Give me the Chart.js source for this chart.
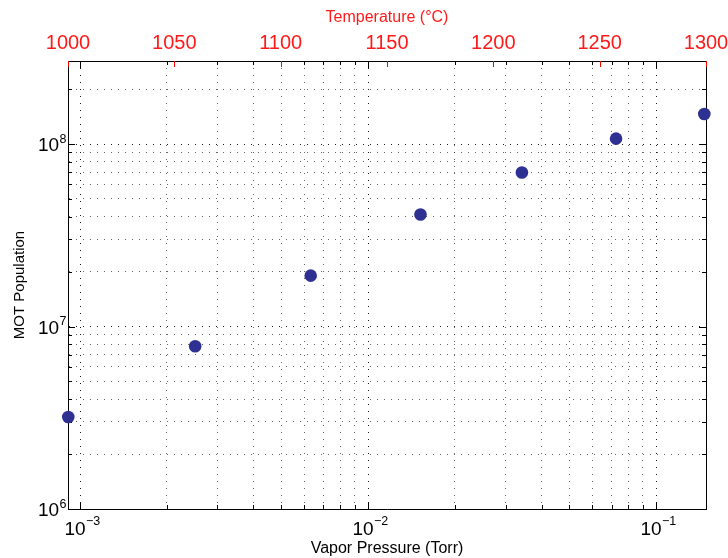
<!DOCTYPE html>
<html>
<head>
<meta charset="utf-8">
<script src="https://cdn.jsdelivr.net/npm/chart.js@4"></script>
<style>
  html, body { margin: 0; padding: 0; background: #fff; }
  #wrap { width: 728px; height: 558px; }
</style>
</head>
<body>
<div id="wrap"><canvas id="motChart"></canvas></div>
<script>
// Data
const vaporPressure = [9.1e-4, 2.51e-3, 6.32e-3, 1.52e-2, 3.42e-2, 7.26e-2, 1.47e-1];
const motPopulation = [3.19e6, 7.8e6, 1.9e7, 4.11e7, 6.98e7, 1.07e8, 1.46e8];

// Axis ranges and tick labels
const pressureRange = [9.08e-4, 1.49e-1];
const populationRange = [1e6, 2.85e8];
const temperatureRange = [1000, 1300];
const temperatureStep = 50;
const pressureTickExps = [-3, -2, -1];
const populationTickExps = [6, 7, 8];

const FONT = "'Liberation Sans', Arial, Helvetica, sans-serif";
Chart.defaults.font.family = FONT;
Chart.defaults.color = '#000';

// only 1..9 x 10^n get grid lines / ticks
function logSignificand(v) {
    if (!v || v <= 0) return null;
    const e = Math.floor(Math.log10(v) + 1e-9);
    const s = v / Math.pow(10, e);
    if (Math.abs(s - Math.round(s)) > 1e-6) return null;
    const r = Math.round(s);
    return r >= 1 && r <= 9 ? r : null;
}

function gridColor(ctx) {
    const s = ctx.tick ? logSignificand(ctx.tick.value) : null;
    if (s === null) return 'rgba(0,0,0,0)';
    return s === 1 ? 'rgba(0,0,0,0.9)' : 'rgba(0,0,0,0.6)';
}

function drawPower(ctx, exp, x, baseY, supY, align) {
    const exponent = exp < 0 ? '\u2212' + Math.abs(exp) : String(exp);
    ctx.font = '19px ' + FONT;
    const wBase = ctx.measureText('10').width;
    ctx.font = '12.5px ' + FONT;
    const wExp = ctx.measureText(exponent).width;
    let left = align === 'right' ? x - wBase - wExp : x - (wBase + wExp) / 2;
    ctx.textAlign = 'left';
    ctx.textBaseline = 'alphabetic';
    ctx.font = '19px ' + FONT;
    ctx.fillText('10', left, baseY);
    ctx.font = '12.5px ' + FONT;
    ctx.fillText(exponent, left + wBase + 0.5, supY);
}

// box frame, inward ticks and power-of-ten labels
const axisDecor = {
    id: 'axisDecor',
    beforeDatasetsDraw(chart) {
        const {ctx, chartArea: a, scales} = chart;
        ctx.save();
        ctx.lineWidth = 1;
        ctx.strokeStyle = '#000';
        ctx.beginPath();
        ctx.moveTo(Math.round(a.right) + 0.5, a.top);
        ctx.lineTo(Math.round(a.right) + 0.5, a.bottom);
        ctx.stroke();

        scales.x.ticks.forEach(t => {
            const s = logSignificand(t.value);
            if (s === null) return;
            const px = Math.round(scales.x.getPixelForValue(t.value)) + 0.5;
            const len = s === 1 ? 7 : 4;
            ctx.beginPath();
            ctx.moveTo(px, a.bottom); ctx.lineTo(px, a.bottom - len);
            ctx.moveTo(px, a.top); ctx.lineTo(px, a.top + len);
            ctx.stroke();
        });
        scales.y.ticks.forEach(t => {
            const s = logSignificand(t.value);
            if (s === null) return;
            const py = Math.round(scales.y.getPixelForValue(t.value)) + 0.5;
            const len = s === 1 ? 7 : 4;
            ctx.beginPath();
            ctx.moveTo(a.left, py); ctx.lineTo(a.left + len, py);
            ctx.moveTo(a.right, py); ctx.lineTo(a.right - len, py);
            ctx.stroke();
        });
        ctx.strokeStyle = '#ff0000';
        scales.x2.ticks.forEach(t => {
            const px = Math.round(scales.x2.getPixelForValue(t.value)) + 0.5;
            ctx.beginPath();
            ctx.moveTo(px, a.top); ctx.lineTo(px, a.top + 6);
            ctx.stroke();
        });
        ctx.restore();
    },
    afterDraw(chart) {
        const {ctx, chartArea: a, scales} = chart;
        ctx.save();
        ctx.fillStyle = '#000';
        pressureTickExps.forEach(e => {
            const px = scales.x.getPixelForValue(Math.pow(10, e));
            drawPower(ctx, e, px + 2, a.bottom + 26, a.bottom + 16, 'center');
        });
        populationTickExps.forEach(e => {
            const py = scales.y.getPixelForValue(Math.pow(10, e));
            drawPower(ctx, e, a.left - 2, py + 7, py - 1.5, 'right');
        });
        ctx.restore();
    }
};

const motChart = new Chart(document.getElementById('motChart').getContext('2d'), {
    type: 'scatter',
    data: {
        datasets: [{
            data: vaporPressure.map((p, i) => ({x: p, y: motPopulation[i]})),
            backgroundColor: '#2e3192',
            borderWidth: 0,
            pointRadius: 6.3,
            pointHoverRadius: 6.3,
            clip: false
        }]
    },
    options: {
        responsive: true,
        maintainAspectRatio: false,
        animation: false,
        layout: { padding: { left: 0, right: 22, top: 0, bottom: 0 } },
        plugins: {
            legend: { display: false },
            tooltip: { enabled: false }
        },
        scales: {
            x: {
                type: 'logarithmic',
                position: 'bottom',
                min: pressureRange[0],
                max: pressureRange[1],
                afterFit: s => { s.height = 49; s.paddingLeft = 0; s.paddingRight = 0; },
                ticks: { display: false },
                grid: { color: gridColor, drawTicks: false, lineWidth: 1 },
                border: { display: true, color: '#000', width: 1, dash: [1, 6] },
                title: {
                    display: true,
                    text: 'Vapor Pressure (Torr)',
                    color: '#000',
                    font: { size: 16 },
                    padding: { top: 0, bottom: 0 }
                }
            },
            x2: {
                type: 'linear',
                position: 'top',
                min: temperatureRange[0],
                max: temperatureRange[1],
                afterFit: s => { s.height = 61; s.paddingLeft = 0; s.paddingRight = 0; },
                ticks: {
                    stepSize: temperatureStep,
                    color: '#ff1a1a',
                    font: { size: 20 },
                    padding: 6,
                    autoSkip: false,
                    maxRotation: 0,
                    callback: v => String(v)
                },
                grid: { display: false, drawTicks: false },
                border: { display: true, color: '#000', width: 1 },
                title: {
                    display: true,
                    text: 'Temperature (\u00b0C)',
                    color: '#ff1a1a',
                    font: { size: 16 },
                    padding: { top: 8, bottom: 0 }
                }
            },
            y: {
                type: 'logarithmic',
                position: 'left',
                min: populationRange[0],
                max: populationRange[1],
                afterFit: s => { s.width = 68; },
                ticks: { display: false },
                grid: { color: gridColor, drawTicks: false, lineWidth: 1 },
                border: { display: true, color: '#000', width: 1, dash: [1, 6] },
                title: {
                    display: true,
                    text: 'MOT Population',
                    color: '#000',
                    font: { size: 15 },
                    padding: { top: 11, bottom: 0 }
                }
            }
        }
    },
    plugins: [axisDecor]
});
</script>
</body>
</html>
